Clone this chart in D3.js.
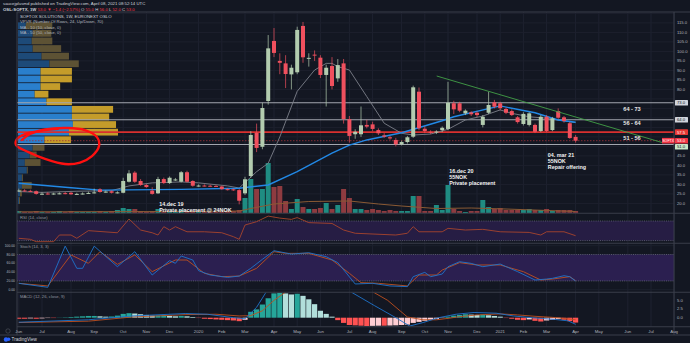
<!DOCTYPE html>
<html>
<head>
<meta charset="utf-8">
<script src="https://cdn.jsdelivr.net/npm/d3@7"></script>
<style>
  html, body { margin: 0; padding: 0; background: #131722; }
  svg { display: block; font-family: "Liberation Sans", Arial, sans-serif; }
</style>
</head>
<body>
<svg id="chart" width="690" height="343"></svg>
<script>
// ---- weekly OHLC, OSL:SOFTX, first bar = week of 2019-06-03 ----
const firstWeek = "2019-06-03";
const lastWeek = "2021-04-05";

const opens = [26.5,26.8,26.6,26.4,25.0,25.2,25.0,25.2,25.4,25.6,
  24.9,25.0,25.2,25.5,27.4,26.0,26.4,25.7,25.6,31.4,
  36.2,31.8,29.7,26.7,25.3,32.8,30.7,32.5,31.4,36.4,
  31.8,29.2,29.4,29.3,29.2,28.9,27.5,27.4,27.0,25.3,
  34.4,57.2,49.8,73.9,105.5,95.0,93.7,87.9,89.0,113.4,
  96.4,98.3,96.7,87.6,92.3,85.8,93.7,64.3,56.4,56.4,
  61.3,61.6,58.6,55.8,54.8,53.4,51.1,52.3,55.1,78.8,
  59.3,57.7,57.5,58.6,59.2,72.7,72.7,67.4,67.9,67.7,
  61.3,67.7,73.2,72.7,69.7,68.6,65.3,61.8,61.3,61.3,
  58.1,65.6,58.6,68.6,65.3,62.2,55.0];
const highs = [27.8,27.5,27.2,26.8,25.8,25.9,25.6,25.8,26.0,26.0,
  25.6,25.8,26.2,27.8,28.0,26.8,26.9,26.4,33.5,37.5,
  37.0,32.8,30.2,28.5,34.0,33.6,34.2,33.4,37.0,37.2,
  32.2,30.0,30.0,29.8,29.6,29.3,28.0,27.8,27.6,34.0,
  58.0,62.0,73.0,108.6,112.3,99.0,98.0,93.0,113.0,115.5,
  99.0,100.5,98.0,93.0,97.0,96.0,96.0,66.0,59.0,71.0,
  64.0,63.0,59.5,57.0,55.5,54.5,53.0,55.5,82.0,81.0,
  60.5,58.5,58.5,60.5,84.0,74.0,73.5,69.5,68.5,68.5,
  66.5,78.8,74.5,73.5,70.5,69.5,66.0,68.0,68.0,62.0,
  66.5,66.5,65.5,70.0,66.0,63.0,56.0];
const lows = [26.0,26.2,26.0,24.6,24.5,24.6,24.5,24.8,24.8,24.5,
  24.6,24.7,25.0,25.2,25.6,25.6,25.2,25.2,25.3,31.0,
  30.8,29.2,28.2,24.6,25.0,30.2,30.2,31.8,31.0,31.0,
  28.8,28.8,28.9,28.8,28.7,27.2,26.8,26.6,19.5,24.5,
  33.5,47.0,48.5,72.0,97.0,88.0,80.7,80.0,88.0,94.0,
  92.0,95.0,86.0,71.0,80.0,84.0,62.0,52.0,54.0,55.0,
  59.5,58.0,56.0,54.5,53.5,50.0,50.5,51.5,54.5,58.5,
  57.0,56.5,56.5,57.5,58.5,67.0,68.0,66.5,66.0,65.5,
  60.0,67.0,70.0,69.0,67.0,66.0,62.0,61.0,60.5,57.0,
  57.5,57.5,58.0,64.5,62.5,54.0,52.0];
const closes = [26.8,26.6,26.5,25.0,25.1,25.0,25.2,25.3,25.2,24.8,
  25.0,25.2,25.5,25.8,26.0,26.2,25.6,25.8,31.8,35.8,
  31.4,29.7,28.6,25.0,32.8,30.7,33.5,32.6,36.4,31.4,
  29.3,29.4,29.2,29.1,29.0,27.5,27.4,27.0,21.4,32.7,
  56.0,49.2,70.2,101.6,99.2,94.0,88.1,91.4,111.3,96.9,
  96.6,97.8,87.6,91.4,81.8,92.8,64.4,55.5,57.7,61.1,
  60.4,59.2,56.9,55.1,54.2,51.1,52.3,54.8,81.1,59.5,
  58.1,57.5,57.8,59.8,73.0,69.5,68.8,68.8,66.9,66.5,
  65.6,71.8,70.9,70.1,67.7,66.5,62.8,67.1,67.4,57.7,
  65.6,58.1,64.8,65.1,63.4,54.4,53.0];
// weekly volume, thousand shares
const volumes = [20,10,10,20,10,10,10,20,10,20,
  10,10,10,10,20,10,20,30,50,40,
  40,20,10,20,40,20,20,10,30,20,
  20,10,10,10,10,10,20,20,30,150,
  340,240,240,500,260,270,120,40,140,60,
  40,40,50,100,40,80,240,150,40,40,
  30,40,30,20,30,20,20,20,170,170,
  20,20,80,30,280,40,20,10,20,20,
  130,60,40,50,30,30,30,30,40,30,
  30,40,20,30,30,30,20];

// moving averages and volume average: [week number, value]
const ma10 = [[0,26.2],[4,25.8],[10,26.4],[16,26.7],[19,29.2],[23,30.8],[28,31.3],[31,30.8],
  [36,29.2],[38,28.1],[41,36.7],[43,41.1],[45,55],[48,79],[51,90.2],[53,93.7],[54,93.7],
  [55,92],[57,90.2],[60,76.2],[63,62.2],[66,56.9],[68,56],[71,56.5],[74,59],[77,63.9],
  [80,66],[83,69.2],[85,67.4],[88,65.6],[91,64.8],[93,63.9],[96,62.5]];
const ma50 = [[0,30.6],[8,28.5],[14,27.0],[28,27.4],[38,28.0],[43,29.7],[48,36.7],[54,46.4],
  [57,50.7],[60,53.4],[66,57.2],[73,63.5],[75,65.6],[83,71.3],[89,67.7],[93,63.9],[96,62.7]];
const volumeMa = [[0,12],[30,15],[38,20],[40,45],[44,90],[50,115],[57,120],[62,90],[66,70],
  [72,45],[78,50],[84,40],[96,15]];

// volume profile (24 rows, lowest first): up / down volume
const profileUp = [1,2,4,4,9,7,12,15,27,52,56,55,55,29,17,23,23,23,32,24,15,14,15,8];
const profileDown = [1,2,10,1,1,16,7,12,27,50,44,38,42,26,14,20,32,32,30,28,29,21,19,27];
const valueAreaRows = [8, 17];

// indicators: [week number, value]
const rsi = [[0,34.7],[2,32.6],[3,27.8],[6,27.8],[7,41.4],[9,41.4],[10,34.7],[12,50.3],[17,46],
  [19,74],[21,51.6],[23,46],[24,41.4],[25,58.4],[26,51.6],[27,58.4],[29,48],[32,48],[35,46],
  [37,38],[38,32.6],[39,61.8],[41,68.6],[43,80],[45,75.9],[47,73.3],[48,77],[50,66.6],
  [54,65],[56,51.6],[58,45],[65,41.4],[67,45],[68,58.4],[69,48],[73,48],[74,55],[77,51.6],
  [80,53],[83,48],[88,46.7],[90,41.4],[91,48],[94,48],[96,40]];
const stochK = [[0,14.5],[5,5.4],[8,99],[10,48.6],[11,48.6],[13,99],[17,52.3],[20,86.4],[23,33.4],
  [26,66],[27,60],[28,76.6],[30,67.5],[31,43.3],[33,33.4],[36,28],[38,31],[40,48.6],[42,69],
  [44,88.6],[47,81],[50,84],[53,75],[55,61.5],[58,13],[61,14.5],[64,8.5],[67,7],[68,29.6],
  [70,39.4],[71,29.6],[73,35.6],[74,52.3],[76,63.6],[78,59.8],[80,52.3],[83,58.3],[86,41],
  [89,22],[91,24.2],[92,25.8],[94,31.8],[95,29.5],[96,19.7]];
const stochD = [[0,14.5],[5,8.5],[9,79],[12,60],[14,86.4],[17,57.6],[20,79],[23,41],[27,67.5],
  [29,67.5],[32,37.2],[35,29.6],[38,31],[41,48.6],[44,86.4],[46,82.6],[50,82.6],[54,67.5],
  [57,37.2],[59,16],[62,14.5],[67,8.5],[69,33.4],[72,33.4],[73,44.7],[76,61.5],[79,56.2],
  [83,56.2],[87,41],[90,22],[92,24.2],[95,29.6],[96,20.5]];
const macdHist = [-0.3,-0.3,-0.2,-0.3,-0.2,-0.1,-0.1,0.05,0.1,0.2,
  0.3,0.4,0.5,0.5,0.4,0.3,0.35,0.6,1.1,1.3,
  1.2,1.0,0.8,0.6,0.65,0.7,0.5,0.4,0.5,0.4,
  0.2,-0.1,-0.3,-0.4,-0.5,-0.6,-0.7,-0.8,-1.0,-0.6,
  1.7,2.4,3.8,5.6,7.0,7.2,7.0,6.7,6.9,6.3,
  5.3,3.9,2.0,1.1,0.3,-0.7,-1.5,-2.1,-2.2,-2.3,
  -2.4,-2.35,-2.3,-2.3,-2.25,-2.2,-2.1,-2.0,-1.5,-1.2,
  -0.9,-0.6,-0.4,-0.1,0.3,0.6,0.8,1.0,0.9,0.8,
  0.9,0.7,0.5,0.3,-0.1,-0.3,-0.6,-0.7,-0.5,-0.9,
  -1.1,-0.8,-0.6,-0.4,-0.6,-1.0,-1.4];
const macdLine = [[0,-1.3],[12,-0.6],[19.5,0.5],[28.7,1.2],[32.5,1.0],[37,0.0],[39,-0.3],[41,3.0],
  [42.5,7.0],[44,11],[48,15],[52,15],[54,12],[57.5,7.2],[61.3,3.5],[65,0.0],[67.4,-2.4],
  [69.7,-1.4],[72.4,0.0],[75.4,1.0],[78.5,1.5],[82.3,1.3],[85.3,0.5],[88.4,0.0],[92.4,-0.5],
  [94.7,-0.9],[96,-1.9]];
const macdSignal = [[0,-1.4],[12,-1.0],[19.5,0.2],[29,0.9],[34,1.0],[38,0.5],[40,0.6],[42,2.0],
  [44,5.0],[49,11],[54,13],[61.3,7.2],[63.6,5.0],[67,0.2],[69.7,-0.6],[72,-0.6],[74,-0.2],
  [76,0.3],[79,0.8],[83,1.1],[86,0.8],[89,0.4],[92,0.1],[94,-0.2],[96,-0.6]];

// drawings
const levels = [73, 64, 51];
const zoneLabels = ["64 - 73", "56 - 64", "51 - 56"];
const zoneLabelPrices = [69.9, 62.2, 54.6];
const trendLine = [[72.05, 87.05], [111.07, 51.9]];
const circled = [[0.55,53.4],[1.93,56.5],[4.52,58.9],[8.31,59.7],[11.41,58.6],[13.48,54.9],
  [13.83,50.2],[12.62,44.9],[10.55,41.5],[7.97,40.7],[4.52,43.4],[1.59,47.1],[-0.48,50.7],
  [-0.31,53.9],[1.07,56.5],[3.66,58.1],[6.76,59.2]];
const noteTexts = [["14.dec 19", "Private placement @ 24NOK"],
  ["16.dec 20", "55NOK", "Private placement"],
  ["04. mar 21", "55NOK", "Repair offering"]];
const noteWeeks = [24.2, 74.2, 91.2];
const notePrices = [19.4, 37.05, 45.5];

// axis labels
const tickDates = ["2019-06-03","2019-07-01","2019-08-05","2019-09-02","2019-10-07","2019-11-04",
  "2019-12-02","2020-01-06","2020-02-03","2020-03-02","2020-04-06","2020-05-04","2020-06-01",
  "2020-07-06","2020-08-03","2020-09-07","2020-10-05","2020-11-02","2020-12-07","2021-01-04",
  "2021-02-01","2021-03-01","2021-04-05","2021-05-03","2021-06-07","2021-07-05","2021-08-02"];
const tickLabels = ["Jun","Jul","Aug","Sep","Oct","Nov","Dec","2020","Feb","Mar","Apr","May","Jun",
  "Jul","Aug","Sep","Oct","Nov","Dec","2021","Feb","Mar","Apr","May","Jun","Jul","Aug"];
const priceTicks = d3.range(20, 121, 5);
const stochTicks = [0, 20, 40, 60, 80, 100];
const macdTicks = [0, 2.5, 5];

// ---- layout ----
const svg = d3.select("#chart");
const paneL = 17, paneR = 674;
const main = { top: 12, bottom: 213 };
const rsiPane = { top: 213.5, bottom: 243 };
const stPane = { top: 243.5, bottom: 292 };
const mcPane = { top: 292.5, bottom: 326.5 };

const parse = d3.utcParse("%Y-%m-%d");
const dates = d3.utcMonday.range(parse(firstWeek), d3.utcDay.offset(parse(lastWeek), 1));
const xTime = d3.scaleUtc().domain([parse("2019-07-01"), parse(lastWeek)]).range([42, 575.6]);
const xw = d3.scaleLinear().domain([0, dates.length - 1])
  .range([xTime(dates[0]), xTime(dates[dates.length - 1])]);
const step = xw(1) - xw(0);

const yP = d3.scaleLinear().domain([20, 115]).range([203.4, 22.9]);
const yVol = d3.scaleLinear().domain([0, 500]).range([main.bottom, main.bottom - 50]);
const yRsi = d3.scaleLinear().domain([30, 70]).range([240.6, 221]);
const ySt = d3.scaleLinear().domain([0, 100]).range([289.7, 245.7]);
const yMacd = d3.scaleLinear().domain([0, 5]).range([317.7, 300.35]);

const defs = svg.append("defs");
function clip(id, p) {
  defs.append("clipPath").attr("id", id).append("rect")
    .attr("x", paneL).attr("y", p.top).attr("width", paneR - paneL).attr("height", p.bottom - p.top);
  return `url(#${id})`;
}

svg.append("rect").attr("width", 690).attr("height", 343).attr("fill", "#131722");

// grid
const grid = svg.append("g");
grid.selectAll(".vg").data(tickDates).join("line")
  .attr("x1", d => xTime(parse(d))).attr("x2", d => xTime(parse(d)))
  .attr("y1", main.top).attr("y2", mcPane.bottom).attr("stroke", "#1e2230").attr("stroke-width", 1);
grid.selectAll(".hg").data(priceTicks.filter(p => yP(p) > main.top && yP(p) < main.bottom)).join("line")
  .attr("x1", paneL).attr("x2", paneR).attr("y1", d => yP(d)).attr("y2", d => yP(d))
  .attr("stroke", "#1c202d").attr("stroke-width", 1);
grid.selectAll(".sg").data(stochTicks).join("line")
  .attr("x1", paneL).attr("x2", paneR).attr("y1", d => ySt(d)).attr("y2", d => ySt(d))
  .attr("stroke", "#1c202d");

// ---- main pane ----
const gMain = svg.append("g").attr("clip-path", clip("cMain", main));

// volume profile
const lo = d3.min(lows), hi = d3.max(highs);
const rowStep = (hi - lo) / profileUp.length;
const wProf = d3.scaleLinear().domain([0, 102]).range([0, 100]);
const prof = gMain.append("g");
profileUp.forEach((u, k) => {
  const inVA = k >= valueAreaRows[0] && k <= valueAreaRows[1];
  const yTop = yP(lo + rowStep * (k + 1)), yBot = yP(lo + rowStep * k);
  const h = yBot - yTop - 0.8;
  prof.append("rect").attr("x", paneL + 1).attr("y", yTop + 0.4).attr("width", wProf(u)).attr("height", h)
    .attr("fill", inVA ? "#2a7fcc" : "#1d4a78");
  prof.append("rect").attr("x", paneL + 1 + wProf(u)).attr("y", yTop + 0.4).attr("width", wProf(profileDown[k])).attr("height", h)
    .attr("fill", inVA ? "#c49c2a" : "#5d5234");
});
const pocRow = d3.maxIndex(profileUp, (u, k) => u + profileDown[k]);
const pocPrice = lo + rowStep * (pocRow + 0.5);

// volume bars
gMain.selectAll(".vol").data(volumes).join("rect")
  .attr("x", (d, i) => xw(i) - step / 2 + 0.4).attr("width", step - 0.8)
  .attr("y", d => yVol(d)).attr("height", d => main.bottom - yVol(d))
  .attr("fill", (d, i) => closes[i] >= opens[i] ? "#1f8c82" : "#8e3b40");
const line = (xs, ys) => d3.line().x(d => xs(d[0])).y(d => ys(d[1]));
gMain.append("path").attr("d", line(xw, yVol)(volumeMa)).attr("fill", "none")
  .attr("stroke", "#8a5a34").attr("stroke-width", 1);

// horizontal levels, POC, last price
gMain.selectAll(".lvl").data(levels).join("line")
  .attr("x1", paneL).attr("x2", paneR).attr("y1", d => yP(d)).attr("y2", d => yP(d))
  .attr("stroke", "#a3a6af").attr("stroke-width", 1.1);
gMain.append("line").attr("x1", paneL).attr("x2", paneR).attr("y1", yP(pocPrice)).attr("y2", yP(pocPrice))
  .attr("stroke", "#d8302f").attr("stroke-width", 1.6);
const last = closes[closes.length - 1];
gMain.append("line").attr("x1", paneL).attr("x2", paneR).attr("y1", yP(last)).attr("y2", yP(last))
  .attr("stroke", "#a0323a").attr("stroke-dasharray", "1.5,1.5").attr("stroke-width", 0.8);

// moving averages
gMain.append("path").attr("d", line(xw, yP)(ma10)).attr("fill", "none").attr("stroke", "#7d808a").attr("stroke-width", 0.9);
gMain.append("path").attr("d", line(xw, yP)(ma50)).attr("fill", "none").attr("stroke", "#2289e6").attr("stroke-width", 1.4);

// candles
const up = "#b3ccaf", down = "#f0505e";
const candles = gMain.append("g");
closes.forEach((c, i) => {
  const o = opens[i], col = c >= o ? up : down, x = xw(i);
  candles.append("line").attr("x1", x).attr("x2", x).attr("y1", yP(highs[i])).attr("y2", yP(lows[i]))
    .attr("stroke", col).attr("stroke-width", 0.7);
  const yt = yP(Math.max(o, c)), yb = yP(Math.min(o, c));
  candles.append("rect").attr("x", x - 2).attr("width", 4).attr("y", yt).attr("height", Math.max(1, yb - yt))
    .attr("fill", col);
});

// trend line
svg.append("path").attr("d", line(xw, yP)(trendLine)).attr("stroke", "#43a047").attr("stroke-width", 0.9).attr("fill", "none");

// circled area
svg.append("path").attr("d", d3.line().x(d => xw(d[0])).y(d => yP(d[1])).curve(d3.curveCatmullRom)(circled))
  .attr("fill", "none").attr("stroke", "#ff1010").attr("stroke-width", 2.4).attr("stroke-linecap", "round");

// zone labels
svg.selectAll(".zl").data(zoneLabels).join("text")
  .attr("x", 632).attr("y", (d, i) => yP(zoneLabelPrices[i])).attr("dy", "0.35em")
  .attr("text-anchor", "middle").attr("font-size", 5.6).attr("font-weight", 700).attr("fill", "#e8e8e8")
  .text(d => d);

// notes
noteTexts.forEach((lines, n) => {
  const t = svg.append("text").attr("font-size", 5.4).attr("font-weight", 700).attr("fill", "#f2f2f2");
  lines.forEach((s, k) => t.append("tspan").attr("x", xw(noteWeeks[n])).attr("y", yP(notePrices[n]) + k * 5.9).attr("dy", "0.35em").text(s));
});

// legend texts
const legend = [["SOFTOX SOLUTIONS, 1W, EURONEXT OSLO", "#d1d4dc"],
  ["VPVR (Number Of Rows, 24, Up/Down, 70)", "#b2b5be"],
  ["MA - 10 (10, close, 0)", "#b2b5be"],
  ["MA - 50 (50, close, 0)", "#b2b5be"]];
legend.forEach((d, k) => svg.append("text").attr("x", 20).attr("y", 16.5 + k * 5.3).attr("dy", "0.35em")
  .attr("font-size", 4.3).attr("fill", d[1]).text(d[0]));

// ---- RSI pane ----
const gR = svg.append("g").attr("clip-path", clip("cRsi", rsiPane));
gR.append("rect").attr("x", paneL).attr("width", paneR - paneL).attr("y", yRsi(70)).attr("height", yRsi(30) - yRsi(70)).attr("fill", "#261d44");
[70, 30].forEach(v => gR.append("line").attr("x1", paneL).attr("x2", paneR).attr("y1", yRsi(v)).attr("y2", yRsi(v))
  .attr("stroke", "#6f7280").attr("stroke-dasharray", "1,1.2").attr("stroke-width", 0.7));
gR.append("path").attr("d", line(xw, yRsi)(rsi)).attr("fill", "none").attr("stroke", "#a8452c").attr("stroke-width", 0.9);
svg.append("text").attr("x", 20).attr("y", 217.5).attr("dy", "0.35em").attr("font-size", 4.2).attr("fill", "#9598a1").text("RSI (14, close)");

// ---- Stochastic pane ----
const gS = svg.append("g").attr("clip-path", clip("cSt", stPane));
gS.append("rect").attr("x", paneL).attr("width", paneR - paneL).attr("y", ySt(80)).attr("height", ySt(20) - ySt(80)).attr("fill", "#2b1f50");
[80, 20].forEach(v => gS.append("line").attr("x1", paneL).attr("x2", paneR).attr("y1", ySt(v)).attr("y2", ySt(v))
  .attr("stroke", "#6f7280").attr("stroke-dasharray", "1,1.2").attr("stroke-width", 0.7));
gS.append("path").attr("d", line(xw, ySt)(stochD)).attr("fill", "none").attr("stroke", "#c0501f").attr("stroke-width", 0.9);
gS.append("path").attr("d", line(xw, ySt)(stochK)).attr("fill", "none").attr("stroke", "#1f74cc").attr("stroke-width", 0.9);
svg.append("text").attr("x", 20).attr("y", 247).attr("dy", "0.35em").attr("font-size", 4.2).attr("fill", "#9598a1").text("Stoch (14, 3, 3)");
svg.selectAll(".stl").data(stochTicks).join("text").attr("x", 15).attr("y", d => ySt(d)).attr("dy", "0.35em")
  .attr("text-anchor", "end").attr("font-size", 3.4).attr("fill", "#b2b5be").text(d => d.toFixed(2));

// ---- MACD pane ----
const gM = svg.append("g").attr("clip-path", clip("cMacd", mcPane));
const histColor = (v, i) => {
  const prev = i > 0 ? macdHist[i - 1] : v;
  if (v >= 0) return v >= prev ? "#26a69a" : "#b2dfdb";
  return v <= prev ? "#ff5252" : "#ffcdd2";
};
gM.selectAll(".h").data(macdHist).join("rect")
  .attr("x", (d, i) => xw(i) - step / 2 + 0.3).attr("width", step - 0.6)
  .attr("y", d => Math.min(yMacd(d), yMacd(0))).attr("height", d => Math.abs(yMacd(d) - yMacd(0)))
  .attr("fill", histColor);
gM.append("path").attr("d", line(xw, yMacd)(macdSignal)).attr("fill", "none").attr("stroke", "#c0501f").attr("stroke-width", 0.9);
gM.append("path").attr("d", line(xw, yMacd)(macdLine)).attr("fill", "none").attr("stroke", "#1f74cc").attr("stroke-width", 0.9);
svg.append("text").attr("x", 20).attr("y", 297).attr("dy", "0.35em").attr("font-size", 4.2).attr("fill", "#9598a1").text("MACD (12, 26, close, 9)");

// ---- frames ----
const frame = "#3a3e4a";
[main.bottom, rsiPane.bottom, stPane.bottom, mcPane.bottom].forEach(y =>
  svg.append("line").attr("x1", paneL).attr("x2", 690).attr("y1", y + 0.25).attr("y2", y + 0.25).attr("stroke", frame).attr("stroke-width", 1.2));
svg.append("line").attr("x1", paneL).attr("x2", 690).attr("y1", main.top).attr("y2", main.top).attr("stroke", frame);
svg.append("line").attr("x1", paneL).attr("x2", paneL).attr("y1", main.top).attr("y2", 335).attr("stroke", frame);
svg.append("line").attr("x1", paneR).attr("x2", paneR).attr("y1", main.top).attr("y2", 335).attr("stroke", frame);
svg.append("line").attr("x1", 0).attr("x2", 690).attr("y1", 335).attr("y2", 335).attr("stroke", frame);

// ---- price axis: tags first, then the tick labels that do not collide with them ----
const tagBoxes = [];
function tag(y, bg, fg, label) {
  tagBoxes.push(y);
  svg.append("rect").attr("x", 675).attr("y", y - 2.8).attr("width", 13).attr("height", 5.6).attr("fill", bg).attr("rx", 0.6);
  svg.append("text").attr("x", 677).attr("y", y).attr("dy", "0.35em").attr("font-size", 4.2).attr("fill", fg).text(label);
}
levels.slice(0, 2).forEach(v => tag(yP(v), "#d1d4dc", "#131722", v.toFixed(1)));
tag(yP(pocPrice), "#e53935", "#ffffff", pocPrice.toFixed(1));
tag(Math.max(yP(levels[2]), yP(last) + 6), "#c8e6c9", "#131722", levels[2].toFixed(1));
tag(yP(last), "#f23645", "#ffffff", last.toFixed(1));
svg.append("rect").attr("x", 662).attr("y", yP(last) - 2.8).attr("width", 12.5).attr("height", 5.6).attr("fill", "#f23645");
svg.append("text").attr("x", 668.2).attr("y", yP(last)).attr("dy", "0.35em").attr("text-anchor", "middle")
  .attr("font-size", 3.6).attr("fill", "#fff").text("SOFTX");

const axisFill = "#b2b5be";
svg.selectAll(".pt")
  .data(priceTicks.filter(p => yP(p) > main.top + 2 && yP(p) < main.bottom - 2 && tagBoxes.every(t => Math.abs(t - yP(p)) > 6)))
  .join("text")
  .attr("x", 677).attr("y", d => yP(d)).attr("dy", "0.35em").attr("font-size", 4.2).attr("fill", axisFill)
  .text(d => d.toFixed(1));

svg.selectAll(".mt").data(macdTicks).join("text").attr("x", 677).attr("y", d => yMacd(d)).attr("dy", "0.35em")
  .attr("font-size", 4.2).attr("fill", axisFill).text(d => d.toFixed(1));

// ---- time axis ----
svg.selectAll(".tt").data(tickDates).join("text")
  .attr("x", d => xTime(parse(d))).attr("y", 331).attr("dy", "0.35em").attr("text-anchor", "middle")
  .attr("font-size", 4.3).attr("fill", axisFill).text((d, i) => tickLabels[i]);

// ---- header ----
svg.append("text").attr("x", 3).attr("y", 3.8).attr("dy", "0.35em").attr("font-size", 4.3).attr("fill", "#d1d4dc")
  .text("saucejplusmd published on TradingView.com, April 08, 2021 08:52:14 UTC");
const hdr = svg.append("text").attr("x", 3).attr("y", 9).attr("dy", "0.35em").attr("font-size", 4.3).attr("fill", "#d1d4dc");
const prev = closes[closes.length - 2];
hdr.append("tspan").attr("font-weight", 700).text("OSL:SOFTX, 1W ");
hdr.append("tspan").attr("fill", "#f23645").text(`${last.toFixed(1)} ▼ −${(prev - last).toFixed(1)} (−${((prev - last) / prev * 100).toFixed(2)}%) `);
hdr.append("tspan").text("O ");
hdr.append("tspan").attr("fill", "#f23645").text(opens[opens.length - 1].toFixed(1) + " ");
hdr.append("tspan").text("H ");
hdr.append("tspan").attr("fill", "#f23645").text(highs[highs.length - 1].toFixed(1) + " ");
hdr.append("tspan").text("L ");
hdr.append("tspan").attr("fill", "#f23645").text(lows[lows.length - 1].toFixed(1) + " ");
hdr.append("tspan").text("C ");
hdr.append("tspan").attr("fill", "#f23645").text(last.toFixed(1));

// ---- footer ----
svg.append("circle").attr("cx", 6).attr("cy", 339.5).attr("r", 2.2).attr("fill", "#2962ff");
svg.append("circle").attr("cx", 8.6).attr("cy", 339.2).attr("r", 1.8).attr("fill", "#2962ff");
svg.append("text").attr("x", 11.5).attr("y", 339.5).attr("dy", "0.35em").attr("font-size", 4.6).attr("fill", "#d1d4dc").text("TradingView");
svg.append("circle").attr("cx", 8).attr("cy", 331).attr("r", 2.2).attr("fill", "none").attr("stroke", "#5d606b").attr("stroke-width", 0.5);
</script>
</body>
</html>
